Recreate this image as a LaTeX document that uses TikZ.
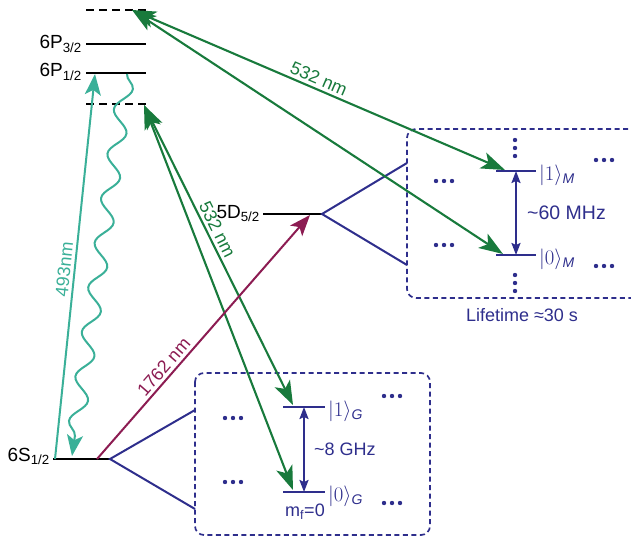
\documentclass[tikz,border=0pt]{standalone}
\usepackage{fontspec}
\setmainfont{Liberation Sans}
\usepackage{amsmath}
\usetikzlibrary{arrows.meta, decorations.pathmorphing, calc}
\definecolor{navy}{RGB}{46,46,140}
\definecolor{laserteal}{RGB}{58,176,152}
\definecolor{lasergreen}{RGB}{24,122,60}
\definecolor{lasermaroon}{RGB}{140,28,82}

\begin{document}
\begin{tikzpicture}[x=1pt, y=-1pt,
    every node/.style={font=\fontsize{18}{21}\selectfont, inner sep=2pt},
    level/.style={line width=2.8pt},
    virtual/.style={line width=2.8pt, dash pattern=on 8pt off 5pt},
    sublevel/.style={navy, line width=2.6pt},
    fan/.style={navy, line width=2pt},
    box/.style={navy, line width=1.7pt, dash pattern=on 5pt off 3.5pt, rounded corners=9pt},
    beam/.style={line width=2.1pt, {Stealth[length=24pt,width=17pt,inset=6pt]}-{Stealth[length=24pt,width=17pt,inset=6pt]}},
    pump/.style={line width=2pt, -{Stealth[length=21pt,width=16pt,inset=5pt]}},
    split/.style={navy, line width=2pt, {Stealth[length=12pt,width=9pt,inset=2pt]}-{Stealth[length=12pt,width=9pt,inset=2pt]}},
    lbl/.style={sloped, above, inner sep=3pt}]
    \useasboundingbox (0,0) rectangle (631,540);
    % Niveaux de l'ion
    \coordinate (v3L) at (86,10);  \coordinate (v3R) at (146,10);
    \coordinate (p3L) at (86,44);  \coordinate (p3R) at (146,44);
    \coordinate (p1L) at (86,73);  \coordinate (p1R) at (146,73);
    \coordinate (v1L) at (86,104); \coordinate (v1R) at (146,104);
    \coordinate (sL) at (53,459);  \coordinate (sR) at (110,459);
    \coordinate (dL) at (263,214); \coordinate (dR) at (322,214);
    \draw[virtual] (v3L) -- (v3R);
    \draw[level] (p3L) -- (p3R);
    \draw[level] (p1L) -- (p1R);
    \draw[virtual] (v1L) -- (v1R);
    \draw[level] (sL) -- (sR);
    \draw[level] (dL) -- (dR);
    \node[anchor=base east, font=\fontsize{19}{22}\selectfont] (n6p3) at (84,49) {6P$_{\text{3/2}}$};
    \node[anchor=base east, font=\fontsize{19}{22}\selectfont] (n6p1) at (84,77) {6P$_{\text{1/2}}$};
    \node[anchor=base east, font=\fontsize{19}{22}\selectfont] (n6s) at (52,461) {6S$_{\text{1/2}}$};
    \node[anchor=base east, font=\fontsize{19}{22}\selectfont] (n5d) at (262,218) {5D$_{\text{5/2}}$};
    % Sous-niveaux
    \coordinate (g1L) at (283,407); \coordinate (g1R) at (325,407);
    \coordinate (g0L) at (283,492); \coordinate (g0R) at (325,492);
    \coordinate (m1L) at (496,171); \coordinate (m1R) at (536,171);
    \coordinate (m0L) at (496,255); \coordinate (m0R) at (536,255);
    \draw[sublevel] (g1L) -- (g1R);
    \draw[sublevel] (g0L) -- (g0R);
    \draw[sublevel] (m1L) -- (m1R);
    \draw[sublevel] (m0L) -- (m0R);
    \draw[split] ($(g1L)!0.5!(g1R)$) coordinate (g1c) -- ($(g0L)!0.5!(g0R)$) coordinate (g0c);
    \draw[split] ($(m1L)!0.5!(m1R)$) coordinate (m1c) -- ($(m0L)!0.5!(m0R)$) coordinate (m0c);
    % Eventails Zeeman
    \coordinate (gfu) at (195,410); \coordinate (gfd) at (195,509);
    \coordinate (mfu) at (407,163); \coordinate (mfd) at (407,265);
    \draw[fan] (gfu) -- (sR) -- (gfd);
    \draw[fan] (mfu) -- (dR) -- (mfd);
    % Boites
    \draw[box] (195,373) rectangle (430,535);
    \draw[box] (645,129) -- (407,129) -- (407,298) -- (645,298);
    % Points de suspension
    \foreach \x/\y in {233/418, 233/482, 392/396, 392/503, 444/181, 444/245, 604/160, 604/266}
    {
      \foreach \d in {-8,0,8}
        \fill[navy] (\x+\d,\y) circle (2.2pt);
    }
    \foreach \x/\y in {515/148, 515/283}
    {
      \foreach \d in {-8,0,8}
        \fill[navy] (\x,\y+\d) circle (2.2pt);
    }
    % Etiquettes
    \node[navy, anchor=west, font=\fontsize{20}{22}\selectfont] (k1g) at (326,411) {$|1\rangle_{\textit{G}}$};
    \node[navy, anchor=west, font=\fontsize{20}{22}\selectfont] (k0g) at (326,496) {$|0\rangle_{\textit{G}}$};
    \node[navy, anchor=west, font=\fontsize{20}{22}\selectfont] (k1m) at (537,175) {$|1\rangle_{\textit{M}}$};
    \node[navy, anchor=west, font=\fontsize{20}{22}\selectfont] (k0m) at (537,259) {$|0\rangle_{\textit{M}}$};
    \node[navy, anchor=west] (fg) at (312,449) {\textasciitilde 8 GHz};
    \node[navy, anchor=west, font=\fontsize{19.5}{22}\selectfont] (fm) at (525,213) {\textasciitilde 60 MHz};
    \node[navy] (mf) at (305,512) {m$_{\text{f}}$=0};
    \node[navy] (life) at (522,315) {Lifetime ≈30 s};
    % Lasers
    \coordinate (v3a) at (132,10);
    \coordinate (m1a) at (505,170);
    \coordinate (m0a) at (503,254);
    \coordinate (v1a) at (144,105);
    \coordinate (g1a) at (293,405);
    \coordinate (g0a) at (293,490);
    \draw[beam, lasergreen] (v3a) -- node[lbl, pos=0.49] {532 nm} (m1a);
    \draw[beam, lasergreen] (v3a) -- (m0a);
    \draw[beam, lasergreen] (v1a) -- node[lbl, pos=0.43] {532 nm} (g1a);
    \draw[beam, lasergreen] (v1a) -- (g0a);
    \coordinate (sa) at (55,459);  \coordinate (p1a) at (95,74);
    \coordinate (sm) at (97,459);  \coordinate (dm) at (310,215);
    \coordinate (p1w) at (127,74); \coordinate (sw) at (72,456);
    \draw[pump, laserteal] (sa) -- node[lbl, pos=0.49] {493nm} (p1a);
    \draw[pump, lasermaroon] (sm) -- node[lbl, pos=0.35] {1762 nm} (dm);
    \draw[pump, laserteal, decorate,
      decoration={snake, amplitude=8pt, segment length=45pt, post length=20pt}] (p1w) -- (sw);
\end{tikzpicture}
\end{document}
